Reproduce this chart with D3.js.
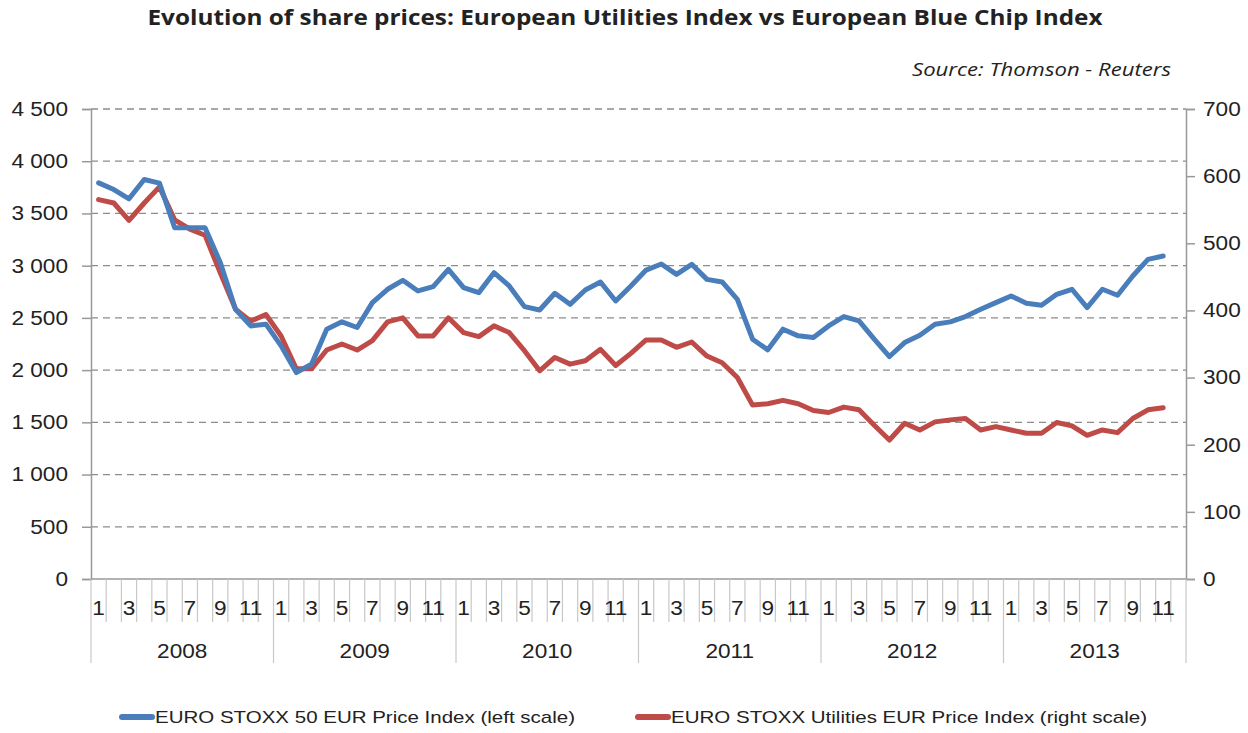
<!DOCTYPE html>
<html>
<head>
<meta charset="utf-8">
<script src="https://cdn.jsdelivr.net/npm/d3@7"></script>
<style>
  body { margin: 0; background: #fff; }
  svg { display: block; }
  text { font-family: "Liberation Sans", Arial, sans-serif; fill: #222; }
</style>
</head>
<body>
<div id="chart"></div>
<script>
// Monthly closes, Jan 2008 - Nov 2013
const years = [2008, 2009, 2010, 2011, 2012, 2013];
const monthLabels = ["1", "", "3", "", "5", "", "7", "", "9", "", "11", ""];

const stoxx50 = [
  3793, 3729, 3640, 3825, 3790, 3363, 3363, 3363, 3030, 2583, 2423, 2440,
  2232, 1977, 2057, 2392, 2462, 2408, 2646, 2774, 2860, 2758, 2800, 2965,
  2790, 2742, 2933, 2806, 2608, 2576, 2736, 2630, 2767, 2844, 2662, 2806,
  2958, 3016, 2917, 3013, 2869, 2844, 2678, 2296, 2194, 2392, 2328, 2312,
  2423, 2513, 2471, 2296, 2130, 2264, 2334, 2439, 2462, 2513, 2583, 2646,
  2710, 2640, 2621, 2726, 2774, 2599, 2774, 2717, 2901, 3060, 3092
];

const utilities = [
  565, 560, 534, 560, 584, 535, 521, 512, 456, 402, 384, 394,
  362, 313, 313, 341, 350, 341, 355, 383, 389, 362, 362, 389,
  367, 361, 377, 367, 340, 310, 330, 320, 325, 342, 318, 336,
  356, 356, 345, 353, 332, 322, 300, 259, 261, 266, 261, 251,
  248, 256, 252, 229, 207, 232, 222, 234, 237, 239, 222, 227,
  222, 217, 217, 233, 228, 214, 222, 218, 239, 252, 255
];

const leftTicks = [0, 500, 1000, 1500, 2000, 2500, 3000, 3500, 4000, 4500];
const rightTicks = [0, 100, 200, 300, 400, 500, 600, 700];

const seriesNames = [
  "EURO STOXX 50 EUR Price Index (left scale)",
  "EURO STOXX Utilities EUR Price Index (right scale)"
];

const width = 1248, height = 733;
const margin = {top: 109, right: 62, bottom: 154, left: 91};
const blue = "#4a7ebb", red = "#be4b48";
const stretch = 1.13; // source image text is slightly wide

const svg = d3.select('#chart').append('svg')
    .attr('width', width)
    .attr('height', height);

// one category per month
const months = [];
years.forEach(y => d3.range(12).forEach(m => months.push({year: y, month: m})));

const x = d3.scaleBand()
    .domain(d3.range(months.length))
    .range([margin.left, width - margin.right])
    .paddingInner(0).paddingOuter(0);

const yL = d3.scaleLinear().domain([0, 4500]).range([height - margin.bottom, margin.top]);
const yR = d3.scaleLinear().domain([0, 700]).range([height - margin.bottom, margin.top]);

const x0 = margin.left, x1 = width - margin.right, yBase = height - margin.bottom;

function widen(sel) {
    sel.each(function() {
        const w = this.getComputedTextLength();
        if (w > 0) d3.select(this).attr('textLength', w * stretch).attr('lengthAdjust', 'spacingAndGlyphs');
    });
}

// Gridlines
svg.append('g')
    .selectAll('line')
    .data(leftTicks.filter(d => d > 0))
    .join('line')
    .attr('x1', x0).attr('x2', x1)
    .attr('y1', d => yL(d)).attr('y2', d => yL(d))
    .attr('stroke', '#8c8c8c')
    .attr('stroke-width', 1.3)
    .attr('stroke-dasharray', '7,5');

// Left axis
const leftAxis = svg.append('g')
    .attr('transform', `translate(${x0},0)`)
    .call(d3.axisLeft(yL).tickValues(leftTicks).tickSize(9).tickPadding(14)
        .tickFormat(d => d3.format(",")(d).replace(/,/g, " ")));

// Right axis
const rightAxis = svg.append('g')
    .attr('transform', `translate(${x1},0)`)
    .call(d3.axisRight(yR).tickValues(rightTicks).tickSize(9).tickPadding(8));

[leftAxis, rightAxis].forEach(a => {
    a.select('.domain').attr('stroke', '#999').attr('stroke-width', 1.5);
    a.selectAll('.tick line').attr('stroke', '#999').attr('stroke-width', 1.5);
    a.selectAll('.tick text')
        .style('font-family', '"Liberation Sans", Arial, sans-serif')
        .style('font-size', '20px')
        .attr('fill', '#222')
        .call(widen);
});

// X axis: month separators, month labels, year separators, year labels
const xa = svg.append('g');
xa.append('line')
    .attr('x1', x0).attr('x2', x1)
    .attr('y1', yBase).attr('y2', yBase)
    .attr('stroke', '#999').attr('stroke-width', 1.5);

xa.selectAll('.msep')
    .data(d3.range(1, months.length))
    .join('line')
    .attr('class', 'msep')
    .attr('x1', d => x(d)).attr('x2', d => x(d))
    .attr('y1', yBase).attr('y2', d => d % 12 === 0 ? yBase + 84 : yBase + 43)
    .attr('stroke', '#c8c8c8').attr('stroke-width', 1.2);

[x0, x1].forEach(px => {
    xa.append('line')
        .attr('x1', px).attr('x2', px)
        .attr('y1', yBase).attr('y2', yBase + 84)
        .attr('stroke', '#c8c8c8').attr('stroke-width', 1.2);
});

xa.selectAll('.mlab')
    .data(months)
    .join('text')
    .attr('class', 'mlab')
    .attr('x', (d, i) => x(i) + x.bandwidth() / 2)
    .attr('y', yBase + 36)
    .attr('text-anchor', 'middle')
    .style('font-size', '20px')
    .text(d => monthLabels[d.month])
    .call(widen);

xa.selectAll('.ylab')
    .data(years)
    .join('text')
    .attr('class', 'ylab')
    .attr('x', (d, i) => (x(i * 12) + x(i * 12 + 11) + x.bandwidth()) / 2)
    .attr('y', yBase + 79)
    .attr('text-anchor', 'middle')
    .style('font-size', '20px')
    .text(d => d)
    .call(widen);

// Lines
const cx = i => x(i) + x.bandwidth() / 2;

svg.append('path')
    .datum(utilities)
    .attr('fill', 'none')
    .attr('stroke', red)
    .attr('stroke-width', 5)
    .attr('stroke-linejoin', 'round')
    .attr('stroke-linecap', 'round')
    .attr('d', d3.line().x((d, i) => cx(i)).y(d => yR(d)));

svg.append('path')
    .datum(stoxx50)
    .attr('fill', 'none')
    .attr('stroke', blue)
    .attr('stroke-width', 5)
    .attr('stroke-linejoin', 'round')
    .attr('stroke-linecap', 'round')
    .attr('d', d3.line().x((d, i) => cx(i)).y(d => yL(d)));

// Title and source
svg.append('text')
    .attr('x', 625)
    .attr('y', 25)
    .attr('text-anchor', 'middle')
    .style('font-family', '"Open Sans", sans-serif')
    .style('font-weight', 'bold')
    .style('font-size', '21px')
    .attr('textLength', 955)
    .attr('lengthAdjust', 'spacingAndGlyphs')
    .text('Evolution of share prices: European Utilities  Index vs European Blue Chip Index');

svg.append('text')
    .attr('x', 1171)
    .attr('y', 76)
    .attr('text-anchor', 'end')
    .style('font-family', '"Open Sans", sans-serif')
    .style('font-style', 'italic')
    .style('font-size', '18px')
    .attr('textLength', 259)
    .attr('lengthAdjust', 'spacingAndGlyphs')
    .text('Source: Thomson - Reuters');

// Legend
const legend = svg.append('g');
const legendItems = [
    {name: seriesNames[0], color: blue, x: 119, w: 420},
    {name: seriesNames[1], color: red, x: 635, w: 476}
];
legendItems.forEach(it => {
    legend.append('line')
        .attr('x1', it.x + 3).attr('x2', it.x + 33)
        .attr('y1', 717).attr('y2', 717)
        .attr('stroke', it.color)
        .attr('stroke-width', 6)
        .attr('stroke-linecap', 'round');
    legend.append('text')
        .attr('x', it.x + 36)
        .attr('y', 723)
        .style('font-size', '17px')
        .attr('textLength', it.w)
        .attr('lengthAdjust', 'spacingAndGlyphs')
        .text(it.name);
});
</script>
</body>
</html>
